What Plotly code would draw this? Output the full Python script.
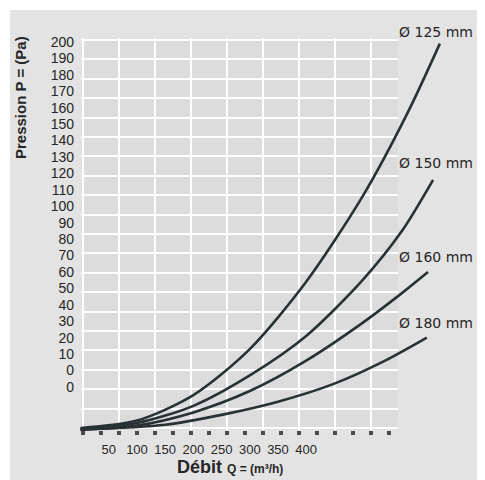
import plotly.graph_objects as go

# ---- data (Q in m3/h, P in the chart's label units) ----
q_125 = [0, 100, 200, 300, 400, 500, 580, 637]
p_125 = [-35, -30.5, -15, 13, 54, 106, 157, 199]

q_150 = [0, 100, 200, 300, 400, 500, 570, 625]
p_150 = [-35.5, -32, -21.5, -3, 21, 55, 85, 116]

q_160 = [0, 100, 200, 300, 400, 500, 560, 616]
p_160 = [-36, -33.5, -25.5, -12.5, 6, 29, 44.5, 60]

q_180 = [0, 150, 250, 350, 450, 540, 614]
p_180 = [-36, -33, -27, -19, -8, 6, 20]

curve_names = ["Ø 125 mm", "Ø 150 mm", "Ø 160 mm", "Ø 180 mm"]

x_tickvals = [50, 100, 150, 200, 250, 300, 350, 400]
x_ticktext = ["50", "100", "150", "200", "250", "300", "350", "400"]
y_tickvals = [200, 190, 180, 170, 160, 150, 140, 130, 120, 110, 100,
              90, 80, 70, 60, 50, 40, 30, 20, 10, 0, -10]
y_ticktext = ["200", "190", "180", "170", "160", "150", "140", "130", "120",
              "110", "100", "90", "80", "70", "60", "50", "40", "30", "20",
              "10", "0", "0"]

# ---- layout constants (window pixels; the page body adds an 8px offset) ----
OFF = 8
W, H = 485 - OFF, 480 - OFF
PX0, PX1, PY0, PY1 = 80, 450, 38, 440          # plot area in window pixels
L, T = PX0 - OFF, PY0 - OFF
R, B = W - (PX1 - OFF), H - (PY1 - OFF)
PW, PH = PX1 - PX0, PY1 - PY0

def fx(px):
    return (px - PX0) / PW

def fy(py):
    return (PY1 - py) / PH

BG = "#e3e3e3"
GRIDBG = "#dcdcdc"
LINE = "#283134"
TXT = "#262626"

fig = go.Figure()

# empty trace so the grid subplot exists
fig.add_trace(go.Scatter(x=[], y=[], xaxis="x", yaxis="y", showlegend=False,
                         hoverinfo="skip"))

for q, p, name in zip([q_125, q_150, q_160, q_180],
                      [p_125, p_150, p_160, p_180], curve_names):
    fig.add_trace(go.Scatter(x=q, y=p, mode="lines", name=name,
                             line=dict(color=LINE, width=2.6, shape="spline",
                                       smoothing=0.8),
                             xaxis="x2", yaxis="y2", showlegend=False))

label_y = [32, 163, 257, 323]
annotations = []
for name, ly in zip(curve_names, label_y):
    annotations.append(dict(text=name, xref="paper", yref="paper",
                            x=fx(397), y=fy(ly), xanchor="left",
                            yanchor="middle", showarrow=False,
                            font=dict(family="DejaVu Sans", size=14, color=TXT)))

annotations.append(dict(text="<b>Pression P = (Pa)</b>", xref="paper",
                        yref="paper", x=fx(20), y=fy(98), textangle=-90,
                        xanchor="center", yanchor="middle", showarrow=False,
                        font=dict(family="Liberation Sans", size=15, color=TXT)))
annotations.append(dict(
    text="<b>Débit</b> <b><span style='font-size:12px'>Q = (m³/h)</span></b>",
    xref="paper", yref="paper", x=fx(230), y=fy(467), xanchor="center",
    yanchor="middle", showarrow=False,
    font=dict(family="Liberation Sans", size=18, color=TXT)))

shapes = [
    dict(type="rect", xref="paper", yref="paper", x0=fx(-20), x1=fx(10),
         y0=fy(500), y1=fy(-20), fillcolor="white", line=dict(width=0),
         layer="below"),
    dict(type="rect", xref="paper", yref="paper", x0=fx(-20), x1=fx(500),
         y0=fy(10), y1=fy(-20), fillcolor="white", line=dict(width=0),
         layer="below"),
    dict(type="rect", xref="x domain", yref="y domain", x0=0, x1=1,
         y0=0, y1=1, fillcolor=GRIDBG, line=dict(width=0), layer="below"),
]

fig.update_layout(
    width=W, height=H,
    margin=dict(l=L, r=R, t=T, b=B, pad=0),
    paper_bgcolor=BG, plot_bgcolor="rgba(0,0,0,0)",
    showlegend=False,
    annotations=annotations, shapes=shapes,
    # grid subplot (vertical lines every 36px, horizontal every 19.4px)
    xaxis=dict(domain=[fx(81), fx(398)], range=[-2 / 36, 315 / 36],
               anchor="y", tick0=0, dtick=1, showgrid=True,
               gridcolor="rgba(255,255,255,0.95)", gridwidth=2,
               zeroline=False, showticklabels=False, showline=False,
               ticks="outside", ticklen=4, tickwidth=3.5, tickcolor="#4a4a4a",
               minor=dict(dtick=0.5, tick0=0, ticks="outside", ticklen=4,
                          tickwidth=3.5, tickcolor="#4a4a4a", showgrid=False),
               fixedrange=True),
    yaxis=dict(domain=[fy(430), fy(38)], range=[20.1, -0.103], anchor="x",
               tick0=0, dtick=1, showgrid=True,
               gridcolor="rgba(255,255,255,0.95)", gridwidth=2,
               zeroline=False, showticklabels=False, showline=False,
               ticks="", fixedrange=True),
    # data subplot
    xaxis2=dict(domain=[0, 1], range=[-1, 655], anchor="y2",
                tickvals=x_tickvals, ticktext=x_ticktext, showgrid=False,
                zeroline=False, showline=False, ticks="",
                tickfont=dict(family="Liberation Sans", size=13, color=TXT)),
    yaxis2=dict(domain=[0, 1], range=[-42.3, 202.4], anchor="x2",
                tickvals=y_tickvals, ticktext=y_ticktext, showgrid=False,
                zeroline=False, showline=False, ticks="",
                ticklabelstandoff=5,
                tickfont=dict(family="Liberation Sans", size=14, color=TXT)),
)

fig.write_html("out.html")
